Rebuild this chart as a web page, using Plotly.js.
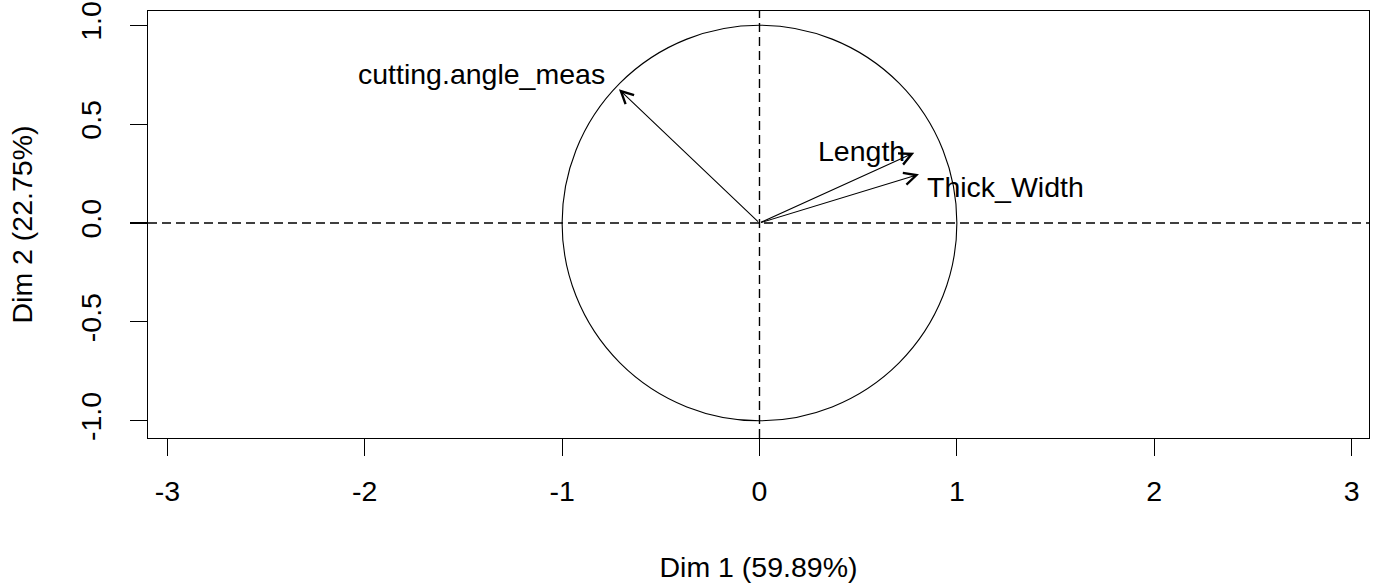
<!DOCTYPE html>
<html>
<head>
<meta charset="utf-8">
<script src="https://cdn.plot.ly/plotly-3.0.1.min.js"></script>
<style>html,body{margin:0;padding:0;background:#fff;}#chart{width:1376px;height:583px;}</style>
</head>
<body>
<div id="chart"></div>
<script>
// Variables factor map (PCA) data
const variables = ['cutting.angle_meas', 'Length', 'Thick_Width'];
const dim1 = [-0.712, 0.784, 0.808];
const dim2 = [0.676, 0.355, 0.246];
const labelX = [-1.406, 0.518, 1.244];
const labelY = [0.753, 0.364, 0.184];
const xTicks = [-3, -2, -1, 0, 1, 2, 3];
const xTickText = ['-3', '-2', '-1', '0', '1', '2', '3'];
const yTicks = [-1, -0.5, 0, 0.5, 1];
const yTickText = ['-1.0', '-0.5', '0.0', '0.5', '1.0'];
const xTitle = 'Dim 1 (59.89%)';
const yTitle = 'Dim 2 (22.75%)';

const FONT = 'Arial, "Liberation Sans", sans-serif';
const FS = 28.5;

const annotations = [];
for (let i = 0; i < variables.length; i++) {
  annotations.push({
    x: dim1[i], y: dim2[i], xref: 'x', yref: 'y',
    ax: 0, ay: 0, axref: 'x', ayref: 'y',
    text: '', showarrow: true,
    arrowhead: 5, arrowsize: 2.2, arrowwidth: 1.1, arrowcolor: '#000'
  });
  annotations.push({
    x: labelX[i], y: labelY[i], xref: 'x', yref: 'y',
    text: variables[i], showarrow: false,
    xanchor: 'center', yanchor: 'middle',
    font: {family: FONT, size: FS, color: '#000'}
  });
}

const shapes = [
  {type: 'circle', xref: 'x', yref: 'y', x0: -1, x1: 1, y0: -1, y1: 1,
   line: {color: '#000', width: 1.1}},
  {type: 'line', xref: 'paper', yref: 'y', x0: 0, x1: 1, y0: 0, y1: 0,
   line: {color: '#000', width: 1.4, dash: '9px,5px'}},
  {type: 'line', xref: 'x', yref: 'paper', x0: 0, x1: 0, y0: 0, y1: 1,
   line: {color: '#000', width: 1.4, dash: '9px,5px'}}
];

const layout = {
  width: 1376, height: 583,
  margin: {l: 148, r: 7, t: 11, b: 145, pad: 0},
  paper_bgcolor: '#fff', plot_bgcolor: '#fff',
  showlegend: false,
  font: {family: FONT, size: FS, color: '#000'},
  xaxis: {
    range: [-3.098, 3.088], tickvals: xTicks, ticktext: xTickText,
    ticks: 'outside', ticklen: 17, tickwidth: 1.1, tickcolor: '#000',
    showline: true, mirror: true, linecolor: '#000', linewidth: 1.1,
    showgrid: false, zeroline: false, automargin: false,
    tickfont: {family: FONT, size: FS, color: '#000'},
    ticklabelstandoff: 11,
    title: {text: xTitle, standoff: 52, font: {family: FONT, size: FS, color: '#000'}}
  },
  yaxis: {
    range: [-1.087, 1.072], tickvals: yTicks, ticktext: yTickText,
    ticks: 'outside', ticklen: 17, tickwidth: 1.1, tickcolor: '#000',
    showline: true, mirror: true, linecolor: '#000', linewidth: 1.1,
    showgrid: false, zeroline: false, automargin: false,
    tickangle: -90,
    tickfont: {family: FONT, size: FS, color: '#000'},
    ticklabelstandoff: 18,
    title: {text: yTitle, standoff: 33, font: {family: FONT, size: FS, color: '#000'}}
  },
  shapes: shapes,
  annotations: annotations
};

Plotly.newPlot('chart', [{x: dim1, y: dim2, type: 'scatter', mode: 'none', hoverinfo: 'skip'}], layout, {staticPlot: true, displayModeBar: false});
</script>
</body>
</html>
